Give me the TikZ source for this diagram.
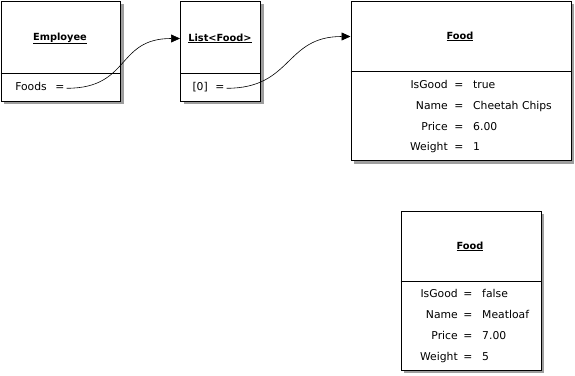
\documentclass[tikz,border=0pt]{standalone}
\usepackage{fontspec}
\setmainfont{DejaVu Sans}
\usetikzlibrary{arrows.meta,shadows}
\begin{document}
\begin{tikzpicture}[x=1pt,y=-1pt,
  objbox/.style={draw=black, line width=0.9pt, fill=white, anchor=north west, inner sep=0pt,
     drop shadow={shadow xshift=3.5pt, shadow yshift=-3.5pt, fill=black!38, opacity=1}},
  sep/.style={draw=black, line width=0.9pt},
  ttl/.style={font=\fontsize{9.8}{11}\selectfont\bfseries, inner sep=0pt, yshift=-0.5pt},
  lbl/.style={font=\fontsize{10.8}{12}\selectfont, inner sep=0pt, anchor=mid east, yshift=-1pt},
  eqs/.style={font=\fontsize{10.8}{12}\selectfont, inner sep=0pt, anchor=mid, yshift=-1pt},
  val/.style={font=\fontsize{10.8}{12}\selectfont, inner sep=0pt, anchor=mid west, yshift=-1pt},
  link/.style={draw=black, line width=0.6pt, -{Triangle[length=9pt,width=8pt]}}]
\useasboundingbox (0,0) rectangle (575,375);
% Employee
\node[objbox, minimum width=119.5pt, minimum height=100pt] (emp) at (0.5,0.5) {};
\draw[sep] (0.5,73.5) coordinate (empsl) -- (120,73.5) coordinate (empsr);
\node[ttl] (empt) at (60,38) {\underline{Employee}};
\node[lbl] (empl) at (47,87) {Foods};
\node[eqs] (empeq) at (60,87) {=};
% List<Food>
\node[objbox, minimum width=80pt, minimum height=100pt] (lst) at (180,0.5) {};
\draw[sep] (180,73.5) coordinate (lstsl) -- (260,73.5) coordinate (lstsr);
\node[ttl] (lstt) at (220,38) {\underline{List<Food>}};
\node[lbl] (lstl) at (208,87) {[0]};
\node[eqs] (lsteq) at (220,87) {=};
% Food 1
\node[objbox, minimum width=220pt, minimum height=159.5pt] (f1) at (350.5,0.5) {};
\draw[sep] (350.5,71) coordinate (f1sl) -- (570.5,71) coordinate (f1sr);
\node[ttl] (f1t) at (460,36) {\underline{Food}};
\node[lbl] (f1l1) at (448,85) {IsGood};
\node[eqs] (f1e1) at (459,85) {=};
\node[val] (f1v1) at (473,85) {true};
\node[lbl] (f1l2) at (448,106) {Name};
\node[eqs] (f1e2) at (459,106) {=};
\node[val] (f1v2) at (473,106) {Cheetah Chips};
\node[lbl] (f1l3) at (448,127) {Price};
\node[eqs] (f1e3) at (459,127) {=};
\node[val] (f1v3) at (473,127) {6.00};
\node[lbl] (f1l4) at (448,147) {Weight};
\node[eqs] (f1e4) at (459,147) {=};
\node[val] (f1v4) at (473,147) {1};
% Food 2
\node[objbox, minimum width=140pt, minimum height=159pt] (f2) at (400.5,210.5) {};
\draw[sep] (400.5,281) coordinate (f2sl) -- (540.5,281) coordinate (f2sr);
\node[ttl] (f2t) at (470,246) {\underline{Food}};
\node[lbl] (f2l1) at (458,294) {IsGood};
\node[eqs] (f2e1) at (468,294) {=};
\node[val] (f2v1) at (482,294) {false};
\node[lbl] (f2l2) at (458,315) {Name};
\node[eqs] (f2e2) at (468,315) {=};
\node[val] (f2v2) at (482,315) {Meatloaf};
\node[lbl] (f2l3) at (458,336) {Price};
\node[eqs] (f2e3) at (468,336) {=};
\node[val] (f2v3) at (482,336) {7.00};
\node[lbl] (f2l4) at (458,357) {Weight};
\node[eqs] (f2e4) at (468,357) {=};
\node[val] (f2v4) at (482,357) {5};
% connectors
\coordinate (c1s) at ([xshift=2pt]empeq.east);
\coordinate (c1e) at (lst.west |- lstt);
\draw[link] (c1s) .. controls ([xshift=64pt]c1s) and ([xshift=-64pt]c1e) .. (c1e);
\coordinate (c2s) at ([xshift=2pt]lsteq.east);
\coordinate (c2e) at (f1.west |- f1t);
\draw[link] (c2s) .. controls ([xshift=66pt]c2s) and ([xshift=-66pt]c2e) .. (c2e);
\end{tikzpicture}
\end{document}
